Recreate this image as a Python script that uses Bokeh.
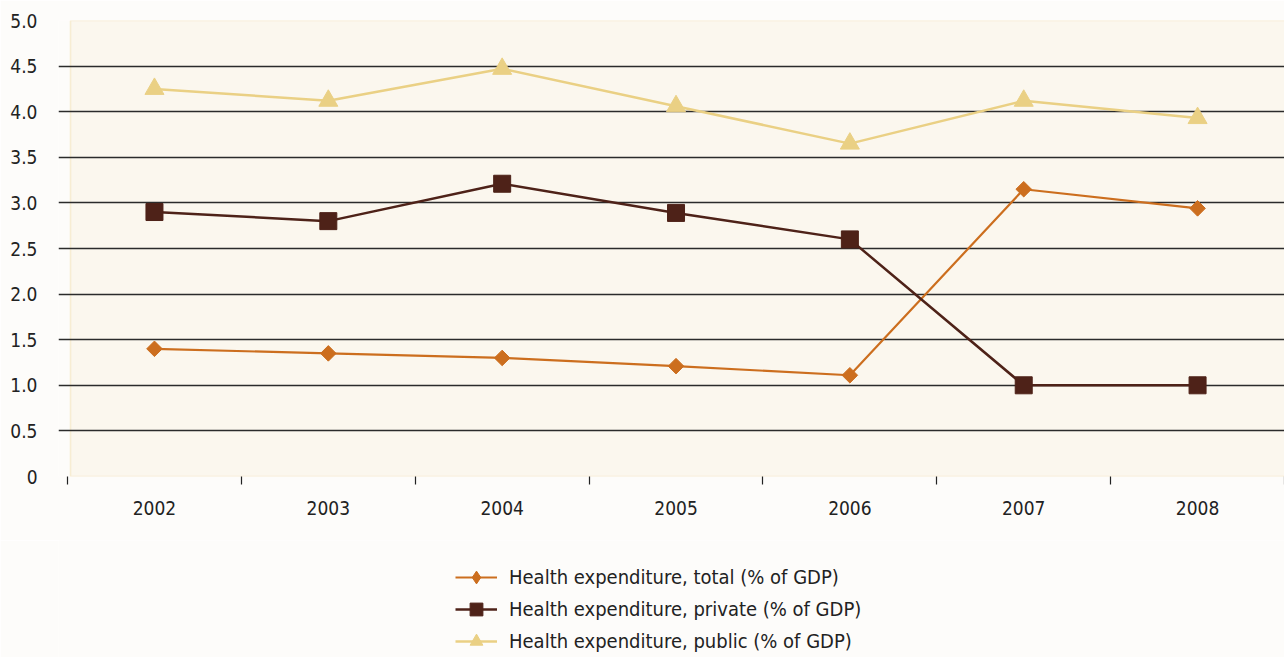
from bokeh.plotting import figure
from bokeh.models import (FixedTicker, BoxAnnotation, Legend, LegendItem, Range1d)
from bokeh.layouts import column
from bokeh.embed import file_html
from bokeh.resources import INLINE
import math

years = ["2002", "2003", "2004", "2005", "2006", "2007", "2008"]
total = [1.40, 1.35, 1.30, 1.21, 1.11, 3.15, 2.94]
private = [2.90, 2.80, 3.21, 2.89, 2.60, 1.00, 1.00]
public = [4.25, 4.12, 4.47, 4.06, 3.65, 4.12, 3.93]
y_ticks = [0, 0.5, 1.0, 1.5, 2.0, 2.5, 3.0, 3.5, 4.0, 4.5, 5.0]
labels = ["Health expenditure, total (% of GDP)",
          "Health expenditure, private (% of GDP)",
          "Health expenditure, public (% of GDP)"]

FONT = "'DejaVu Sans Condensed', 'Roboto Condensed', Roboto, sans-serif"
BG = "#fdfcfa"
xs = list(range(len(years)))

c_total = "#cc6e1e"
c_priv = "#4e2218"
c_pub = "#ead084"

p = figure(width=1284, height=540, output_backend="svg", toolbar_location=None,
           x_range=Range1d(-0.552, 6.5), y_range=Range1d(0, 5.0),
           min_border_left=58, min_border_right=0, min_border_top=20,
           min_border_bottom=64)
p.outline_line_color = None
p.background_fill_color = BG
p.border_fill_color = BG

box = BoxAnnotation(left=-0.5 + 0.017, right=6.6, bottom=0, top=5.0,
                    fill_color="#fbf7ee", fill_alpha=1.0,
                    line_color="#ecd088", line_width=1.6, level="image")
p.add_layout(box)

# grid
p.xgrid.visible = False
p.ygrid.ticker = FixedTicker(ticks=y_ticks[1:-1])
p.ygrid.grid_line_color = "#2b2b2b"
p.ygrid.grid_line_width = 1.3

# y axis
p.yaxis.ticker = FixedTicker(ticks=y_ticks)
p.yaxis.major_label_overrides = {t: ("0" if t == 0 else f"{t:.1f}") for t in y_ticks}
p.yaxis.axis_line_color = None
p.yaxis.major_tick_line_color = None
p.yaxis.minor_tick_line_color = None
p.yaxis.major_label_standoff = 15
p.yaxis.major_label_text_font = FONT
p.yaxis.major_label_text_font_size = "19px"
p.yaxis.major_label_text_color = "#222222"

# x axis
p.xaxis.ticker = FixedTicker(ticks=xs, minor_ticks=[i - 0.5 for i in range(len(years) + 1)])
p.xaxis.major_label_overrides = {i: y for i, y in enumerate(years)}
p.xaxis.axis_line_color = None
p.xaxis.major_tick_line_color = None
p.xaxis.minor_tick_line_color = "#222222"
p.xaxis.minor_tick_line_width = 1.2
p.xaxis.minor_tick_in = 0
p.xaxis.minor_tick_out = 8
p.xaxis.major_label_standoff = 16
p.xaxis.major_label_text_font = FONT
p.xaxis.major_label_text_font_size = "19px"
p.xaxis.major_label_text_color = "#222222"

p.line(xs, total, line_color=c_total, line_width=2.2)
p.scatter(xs, total, marker="square", angle=math.pi / 4, size=11,
          fill_color=c_total, line_color=c_total)
p.line(xs, private, line_color=c_priv, line_width=2.5)
p.scatter(xs, private, marker="square", size=17,
          fill_color=c_priv, line_color=c_priv)
p.line(xs, public, line_color=c_pub, line_width=2.5)
p.scatter(xs, public, marker="triangle", size=19,
          fill_color=c_pub, line_color=c_pub)

# legend panel (its frame is aligned with the chart's frame above)
q = figure(width=1284, height=117, output_backend="svg", toolbar_location=None,
           x_range=Range1d(0, 1), y_range=Range1d(0, 1),
           min_border_left=0, min_border_right=0, min_border_top=0,
           min_border_bottom=0)
q.axis.visible = False
q.grid.visible = False
q.outline_line_color = None
q.background_fill_color = BG
q.border_fill_color = BG

nan = [float("nan")]
r1 = q.line(nan, nan, line_color=c_total, line_width=2.2)
s1 = q.scatter(nan, nan, marker="diamond", size=14,
               fill_color=c_total, line_color=c_total)
r2 = q.line(nan, nan, line_color=c_priv, line_width=2.5)
s2 = q.scatter(nan, nan, marker="square", size=20, fill_color=c_priv, line_color=c_priv)
r3 = q.line(nan, nan, line_color=c_pub, line_width=2.5)
s3 = q.scatter(nan, nan, marker="triangle", size=20, fill_color=c_pub, line_color=c_pub)

legend = Legend(items=[LegendItem(label=labels[0], renderers=[r1, s1]),
                       LegendItem(label=labels[1], renderers=[r2, s2]),
                       LegendItem(label=labels[2], renderers=[r3, s3])],
                location=(397, 0), orientation="vertical",
                glyph_width=42, glyph_height=32, label_height=32,
                spacing=0, padding=0, margin=0, label_standoff=12,
                border_line_color=None, background_fill_alpha=0,
                label_text_font=FONT, label_text_font_size="20px",
                label_text_color="#222222")
q.add_layout(legend)

layout = column(p, q, spacing=0)
open("out.html", "w").write(file_html(layout, INLINE))
